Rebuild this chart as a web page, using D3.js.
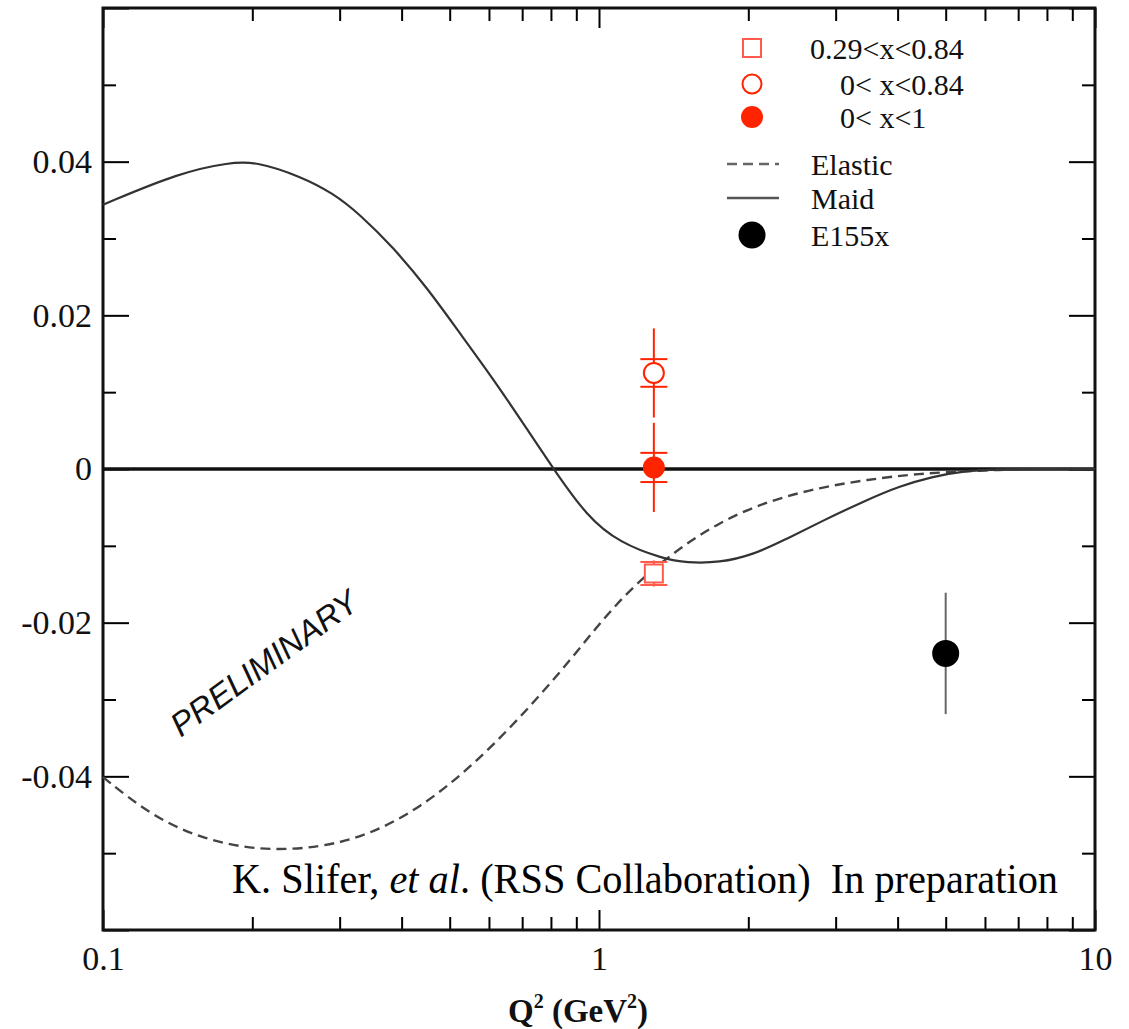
<!DOCTYPE html>
<html>
<head>
<meta charset="utf-8">
<script src="https://cdn.jsdelivr.net/npm/d3@7"></script>
<style>
  html, body { margin: 0; padding: 0; background: #fff; }
  svg { display: block; }
</style>
</head>
<body>
<svg id="chart" width="1129" height="1029"></svg>
<script>
// Q^2 values in GeV^2 and the corresponding integral for the two model curves
const maidQ2 = [0.1, 0.143, 0.18, 0.204, 0.25, 0.291, 0.33, 0.384, 0.45, 0.517, 0.611, 0.716, 0.808, 0.946, 1.10, 1.35, 1.50, 1.75, 2.04, 2.39, 2.79, 3.47, 4.04, 4.71, 5.34, 6.5, 8.0, 10];
const maidVal = [0.0344, 0.0386, 0.0399, 0.0400, 0.0381, 0.0359, 0.0331, 0.0289, 0.0236, 0.0182, 0.0118, 0.0052, 0.0001, -0.0062, -0.0096, -0.0117, -0.0122, -0.0122, -0.0112, -0.0091, -0.0069, -0.0040, -0.0022, -0.0010, -0.0003, 0.0, 0.0, 0.0];

const elasticQ2 = [0.1, 0.1244, 0.157, 0.207, 0.274, 0.345, 0.436, 0.55, 0.693, 0.874, 1.087, 1.371, 1.753, 2.21, 2.79, 3.47, 4.38, 5.78, 7.5, 10];
const elasticVal = [-0.0401, -0.0450, -0.0481, -0.0497, -0.0493, -0.0476, -0.0441, -0.0389, -0.0324, -0.0250, -0.0172, -0.0114, -0.0068, -0.0041, -0.0024, -0.0014, -0.0006, -0.0002, 0.0, 0.0];

// Measured points: [Q2, value, statistical error, total error]
const squarePts = [[1.29, -0.0136, 0.0015, 0.0017]];   // 0.29<x<0.84
const openPts   = [[1.29, 0.0125, 0.0018, 0.0058]];    // 0<x<0.84
const filledPts = [[1.29, 0.0002, 0.0019, 0.0058]];    // 0<x<1
const e155Pts   = [[5.0, -0.0240, 0.0079]];            // E155x

const yTickLabels = [-0.04, -0.02, 0, 0.02, 0.04];
const xTickLabels = [0.1, 1, 10];
const legendLabels = ["0.29<x<0.84", "0< x<0.84", "0< x<1", "Elastic", "Maid", "E155x"];

const red = "#ff2400";
const redLight = "#ff5a4a";
const serif = "'Liberation Serif', 'Times New Roman', serif";

const svg = d3.select("#chart");
const L = 103, R = 1095, T = 8, B = 930;

const x = d3.scaleLog().domain([0.1, 10]).range([L, R]);
const y = d3.scaleLinear().domain([-0.06, 0.06]).range([B, T]);

// ---- axes: major/minor ticks drawn inward on all four sides ----
const minorX = [];
for (let d = 0.1; d < 10; d *= 10) for (let k = 2; k <= 9; k++) minorX.push(+(d * k).toFixed(3));
const majorY = d3.range(-0.06, 0.0601, 0.02).map(v => +v.toFixed(3));
const minorY = d3.range(-0.05, 0.0501, 0.02).map(v => +v.toFixed(3));

function drawAxis(axis, transform, labels) {
  const g = svg.append("g").attr("transform", transform).call(axis);
  g.select(".domain").remove();
  g.selectAll(".tick line").attr("stroke", "#000").attr("stroke-width", 2);
  g.selectAll("text").attr("font-family", serif).attr("font-size", 34).attr("fill", "#111");
  if (!labels) g.selectAll("text").remove();
  return g;
}

const MAJ = 26, MIN = 13;
// bottom
drawAxis(d3.axisBottom(x).tickValues(xTickLabels).tickSize(-20).tickPadding(16).tickFormat(d => String(d)), `translate(0,${B})`, true);
drawAxis(d3.axisBottom(x).tickValues(minorX).tickSize(-MIN), `translate(0,${B})`, false);
// top
drawAxis(d3.axisTop(x).tickValues(xTickLabels).tickSize(-20), `translate(0,${T})`, false);
drawAxis(d3.axisTop(x).tickValues(minorX).tickSize(-MIN), `translate(0,${T})`, false);
// left
drawAxis(d3.axisLeft(y).tickValues(majorY).tickSize(-MAJ).tickPadding(11)
  .tickFormat(d => yTickLabels.includes(d) ? (d === 0 ? "0" : String(d)) : ""), `translate(${L},0)`, true);
drawAxis(d3.axisLeft(y).tickValues(minorY).tickSize(-MIN), `translate(${L},0)`, false);
// right
drawAxis(d3.axisRight(y).tickValues(majorY).tickSize(-MAJ), `translate(${R},0)`, false);
drawAxis(d3.axisRight(y).tickValues(minorY).tickSize(-MIN), `translate(${R},0)`, false);

// frame
svg.append("rect").attr("x", L).attr("y", T).attr("width", R - L).attr("height", B - T)
  .attr("fill", "none").attr("stroke", "#111").attr("stroke-width", 3);

// zero line
svg.append("line").attr("x1", L).attr("x2", R).attr("y1", y(0)).attr("y2", y(0))
  .attr("stroke", "#111").attr("stroke-width", 3.5);

// ---- model curves ----
const line = d3.line().x(d => x(d[0])).y(d => y(d[1])).curve(d3.curveBasis);
svg.append("path").datum(d3.zip(elasticQ2, elasticVal)).attr("d", line)
  .attr("fill", "none").attr("stroke", "#444").attr("stroke-width", 2.4).attr("stroke-dasharray", "10,6");
svg.append("path").datum(d3.zip(maidQ2, maidVal)).attr("d", line)
  .attr("fill", "none").attr("stroke", "#333").attr("stroke-width", 2.2);

// ---- error bars ----
function errorBars(pts, color, capW) {
  pts.forEach(p => {
    const cx = x(p[0]);
    svg.append("line").attr("x1", cx).attr("x2", cx).attr("y1", y(p[1] + p[3])).attr("y2", y(p[1] - p[3]))
      .attr("stroke", color).attr("stroke-width", 2);
    [p[1] + p[2], p[1] - p[2]].forEach(v => {
      svg.append("line").attr("x1", cx - capW / 2).attr("x2", cx + capW / 2).attr("y1", y(v)).attr("y2", y(v))
        .attr("stroke", color).attr("stroke-width", 2);
    });
  });
}
errorBars(openPts, red, 27);
errorBars(filledPts, red, 27);
errorBars(squarePts, redLight, 27);

// markers
svg.selectAll(".sq").data(squarePts).join("rect")
  .attr("x", d => x(d[0]) - 9).attr("y", d => y(d[1]) - 9).attr("width", 18).attr("height", 18)
  .attr("fill", "#fff").attr("stroke", redLight).attr("stroke-width", 2);
svg.selectAll(".oc").data(openPts).join("circle")
  .attr("cx", d => x(d[0])).attr("cy", d => y(d[1])).attr("r", 10)
  .attr("fill", "#fff").attr("stroke", red).attr("stroke-width", 2);
svg.selectAll(".fc").data(filledPts).join("circle")
  .attr("cx", d => x(d[0])).attr("cy", d => y(d[1])).attr("r", 11)
  .attr("fill", red);

// E155x
e155Pts.forEach(p => {
  svg.append("line").attr("x1", x(p[0])).attr("x2", x(p[0])).attr("y1", y(p[1] + p[2])).attr("y2", y(p[1] - p[2]))
    .attr("stroke", "#666").attr("stroke-width", 2);
});
svg.selectAll(".e155").data(e155Pts).join("circle")
  .attr("cx", d => x(d[0])).attr("cy", d => y(d[1])).attr("r", 13.5).attr("fill", "#000");

// ---- legend ----
const lg = svg.append("g").attr("font-family", serif).attr("font-size", 30).attr("fill", "#111");
const legY = [48, 84, 117, 164, 198, 235];
const legX = [810, 840, 840, 811, 811, 811];
lg.append("rect").attr("x", 743).attr("y", legY[0] - 9).attr("width", 18).attr("height", 18)
  .attr("fill", "#fff").attr("stroke", redLight).attr("stroke-width", 2);
lg.append("circle").attr("cx", 752).attr("cy", legY[1]).attr("r", 9.5)
  .attr("fill", "#fff").attr("stroke", red).attr("stroke-width", 2);
lg.append("circle").attr("cx", 752).attr("cy", legY[2]).attr("r", 11).attr("fill", red);
lg.append("line").attr("x1", 727).attr("x2", 779).attr("y1", legY[3]).attr("y2", legY[3])
  .attr("stroke", "#666").attr("stroke-width", 2.4).attr("stroke-dasharray", "10,6");
lg.append("line").attr("x1", 727).attr("x2", 779).attr("y1", legY[4]).attr("y2", legY[4])
  .attr("stroke", "#555").attr("stroke-width", 2.4);
lg.append("circle").attr("cx", 752).attr("cy", legY[5]).attr("r", 13.5).attr("fill", "#000");
legendLabels.forEach((t, i) => {
  lg.append("text").attr("x", legX[i]).attr("y", legY[i]).attr("dy", "0.35em").text(t);
});

// ---- annotations ----
svg.append("text").attr("transform", "translate(264,663) rotate(-36)")
  .attr("text-anchor", "middle").attr("dy", "0.35em")
  .attr("font-family", "'Liberation Sans', Arial, sans-serif").attr("font-style", "italic")
  .attr("font-size", 33).attr("fill", "#111").text("PRELIMINARY");

const credit = svg.append("text").attr("x", 232).attr("y", 893)
  .attr("font-family", serif).attr("font-size", 42).attr("fill", "#000")
  .attr("textLength", 826).attr("lengthAdjust", "spacingAndGlyphs")
  .style("white-space", "pre");
credit.append("tspan").text("K. Slifer, ");
credit.append("tspan").attr("font-style", "italic").text("et al");
credit.append("tspan").text(". (RSS Collaboration)  In preparation");

const xt = svg.append("text").attr("x", 578).attr("y", 1022).attr("text-anchor", "middle")
  .attr("font-family", serif).attr("font-size", 33).attr("font-weight", "bold").attr("fill", "#111");
xt.append("tspan").text("Q");
xt.append("tspan").attr("font-size", 20).attr("dy", -14).text("2");
xt.append("tspan").attr("dy", 14).text(" (GeV");
xt.append("tspan").attr("font-size", 20).attr("dy", -14).text("2");
xt.append("tspan").attr("dy", 14).text(")");
</script>
</body>
</html>
